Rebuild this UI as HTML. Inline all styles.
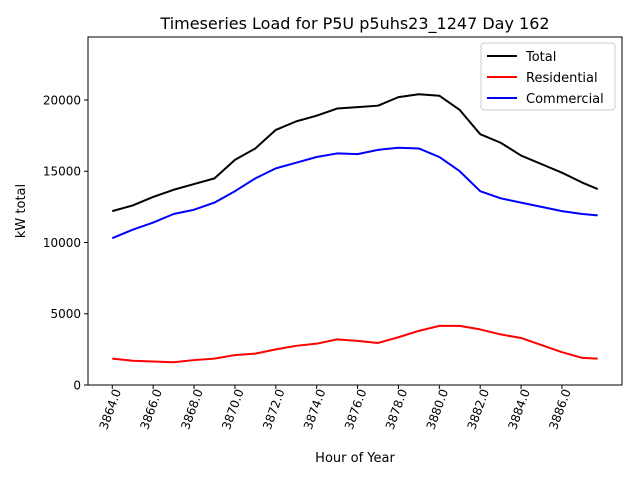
<!DOCTYPE html>
<html><head><meta charset="utf-8"><style>body{margin:0;background:#fff}svg{display:block;font-family:"DejaVu Sans","Liberation Sans",sans-serif}</style></head>
<body>
<svg id="chart" width="640" height="480">
<rect width="640" height="480" fill="#fff"/>
<text x="355" y="29" font-size="16" text-anchor="middle">Timeseries Load for P5U p5uhs23_1247  Day 162</text>
<g id="plot"></g>
<rect x="88" y="37" width="534" height="348" fill="none" stroke="#000" stroke-width="1"/>
<text x="355" y="462" font-size="13" text-anchor="middle">Hour of Year</text>
<text transform="translate(25,211) rotate(-90)" font-size="13" text-anchor="middle">kW total</text>
<g>
<rect x="481" y="43" width="134" height="67" fill="#fff" stroke="#ccc" rx="3"/>
<line x1="487" y1="56" x2="517" y2="56" stroke="#000" stroke-width="2"/>
<text x="526" y="61" font-size="13">Total</text>
<line x1="487" y1="77" x2="517" y2="77" stroke="red" stroke-width="2"/>
<text x="526" y="82" font-size="13">Residential</text>
<line x1="487" y1="98" x2="517" y2="98" stroke="blue" stroke-width="2"/>
<text x="526" y="103" font-size="13">Commercial</text>
</g>
</svg>
<script>
const hours=[3864,3865,3866,3867,3868,3869,3870,3871,3872,3873,3874,3875,3876,3877,3878,3879,3880,3881,3882,3883,3884,3885,3886,3887,3887.75];
const total=[12200,12600,13200,13700,14100,14500,15800,16600,17900,18500,18900,19400,19500,19600,20200,20400,20300,19300,17600,17000,16100,15500,14900,14200,13750];
const residential=[1850,1700,1650,1600,1750,1850,2100,2200,2500,2750,2900,3200,3100,2950,3350,3800,4150,4150,3900,3550,3300,2800,2300,1900,1850];
const commercial=[10300,10900,11400,12000,12300,12800,13600,14500,15200,15600,16000,16250,16200,16500,16650,16600,16000,15000,13600,13100,12800,12500,12200,12000,11900];
const xTicks=[3864,3866,3868,3870,3872,3874,3876,3878,3880,3882,3884,3886];
const yTicks=[0,5000,10000,15000,20000];
const X=h=>88+(h-3862.8125)/(3888.9375-3862.8125)*534;
const Y=v=>385-v/24420*348;
const NS="http://www.w3.org/2000/svg";
const g=document.getElementById('plot');
function mk(t,a){const e=document.createElementNS(NS,t);for(const k in a)e.setAttribute(k,a[k]);g.appendChild(e);return e;}
xTicks.forEach(t=>{
 const l=mk('line',{x1:X(t),x2:X(t),y1:385,y2:389,stroke:'#000'});
 
 
 const tx=mk('text',{transform:`translate(${X(t)+9},391) rotate(-70)`,'font-size':12,'text-anchor':'end'});
 tx.textContent=t.toFixed(1);
 
 
});
yTicks.forEach(t=>{
 const l=mk('line',{x1:84,x2:88,y1:Y(t),y2:Y(t),stroke:'#000'});
 
 
 const tx=mk('text',{x:81,y:Y(t)+4.5,'font-size':12,'text-anchor':'end'});
 tx.textContent=t;
 
 
});
[[total,'#000','total-line'],[residential,'red','residential-line'],[commercial,'blue','commercial-line']].forEach(([s,c,n])=>{
 const p=mk('polyline',{points:s.map((v,i)=>X(hours[i])+','+Y(v)).join(' '),fill:'none',stroke:c,'stroke-width':2,'stroke-linejoin':'round'});
 
 
});
</script>
</body></html>
